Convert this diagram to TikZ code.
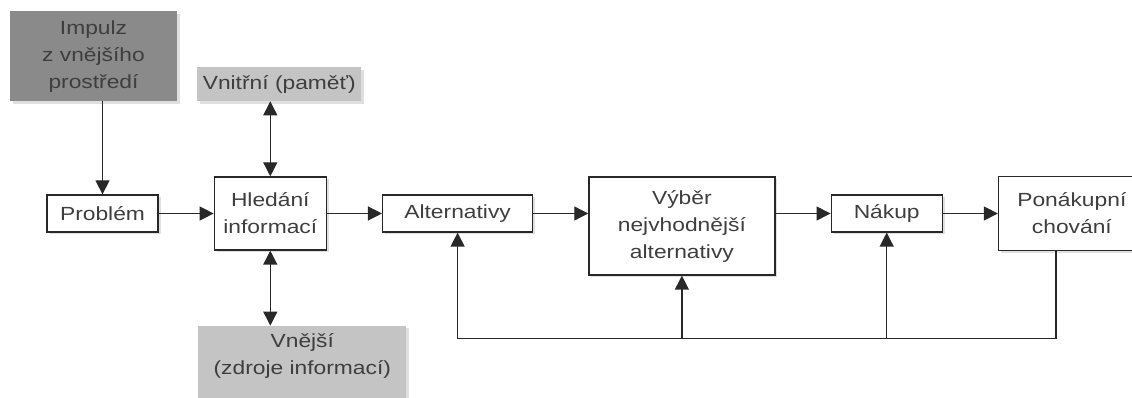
\documentclass[tikz,border=0pt]{standalone}
\usepackage{fontspec}
\setmainfont[FakeStretch=1.2]{Liberation Sans}
\definecolor{darkfill}{RGB}{138,138,138}
\definecolor{lightfill}{RGB}{196,196,196}
\definecolor{txtgray}{RGB}{62,62,62}
\definecolor{linegray}{RGB}{40,40,40}
\tikzstyle{stage}=[rectangle,draw=linegray,line width=1.3pt,fill=white,inner sep=0pt,
align=center,drop shadow={shadow xshift=2.5pt,shadow yshift=-2.5pt,opacity=0.25}]
\tikzstyle{source}=[rectangle,fill=lightfill,inner sep=0pt,
align=center,drop shadow={shadow xshift=2.5pt,shadow yshift=-2.5pt,opacity=0.25}]
\tikzstyle{impulse}=[source,fill=darkfill]
\tikzstyle{flow}=[-{Triangle[length=14pt,width=14pt]},line width=1.3pt,color=linegray]
\tikzstyle{twoway}=[{Triangle[length=14pt,width=14pt]}-{Triangle[length=14pt,width=14pt]},line width=1.3pt,color=linegray]
\usetikzlibrary{positioning,arrows.meta,shadows}

\begin{document}
\begin{tikzpicture}[x=1pt,y=1pt,node distance=55pt,
        font=\fontsize{19}{27}\selectfont,text=txtgray]
            \useasboundingbox (0,0) rectangle (1132,398);

            % Decision chain

            \node[stage,minimum width=111pt,minimum height=37pt] (problem) at (102.5,184.5) {Probl\'em};
            \node[stage,right=of problem,minimum width=112pt,minimum height=73pt] (hledani) {Hled\'an\'i\\informac\'i};
            \node[stage,right=of hledani,minimum width=150pt,minimum height=37pt] (alternativy) {Alternativy};
            \node[stage,right=of alternativy,yshift=-12.5pt,minimum width=186pt,minimum height=98pt] (vyber) {V\'yb\v{e}r\\nejvhodn\v{e}j\v{s}\'i\\alternativy};
            \node[stage,right=of vyber,yshift=12.5pt,minimum width=111pt,minimum height=37pt] (nakup) {N\'akup};
            \node[stage,right=of nakup,minimum width=200pt,minimum height=74pt] (ponakupni) {};
            \node[align=center] (ponakupnitext) at ([xshift=74pt]ponakupni.west) {Pon\'akupn\'i\\chov\'an\'i};

            \path[flow] (problem) edge node {} (hledani);
            \path[flow] (hledani) edge node {} (alternativy);
            \path[flow] (alternativy) edge node {} (alternativy -| vyber.west);
            \path[flow] (nakup -| vyber.east) edge node {} (nakup);
            \path[flow] (nakup) edge node {} (ponakupni);

            % Sources PART

            \node[impulse,above=93pt of problem,xshift=-9pt,minimum width=167pt,minimum height=90pt] (impulz) {Impulz\\z vn\v{e}j\v{s}\'iho\\prost\v{r}ed\'i};
            \node[source,above=75pt of hledani,xshift=9pt,minimum width=164pt,minimum height=34pt] (vnitrni) {Vnit\v{r}n\'i (pam\v{e}\v{t})};
            \node[source,below=75pt of hledani,xshift=32pt,minimum width=208pt,minimum height=76pt] (vnejsi) {};
            \node[align=center,yshift=8pt] (vnejsitext) at (vnejsi) {Vn\v{e}j\v{s}\'i\\(zdroje informac\'i)};

            \path[flow] (problem.north |- impulz.south) edge node {} (problem.north);
            \path[twoway] (hledani.north |- vnitrni.south) edge node {} (hledani.north);
            \path[twoway] (hledani.south) edge node {} (hledani.south |- vnejsi.north);

            % Feedback PART

            \coordinate[below=106pt of alternativy] (fb);
            \draw[line width=1.3pt,color=linegray] ([xshift=58pt]ponakupni.south west) |- (fb);
            \path[flow] (fb) edge node {} (alternativy);
            \path[flow] (fb -| vyber.south) edge node {} (vyber.south);
            \path[flow] (fb -| nakup.south) edge node {} (nakup.south);

\end{tikzpicture}
\end{document}
